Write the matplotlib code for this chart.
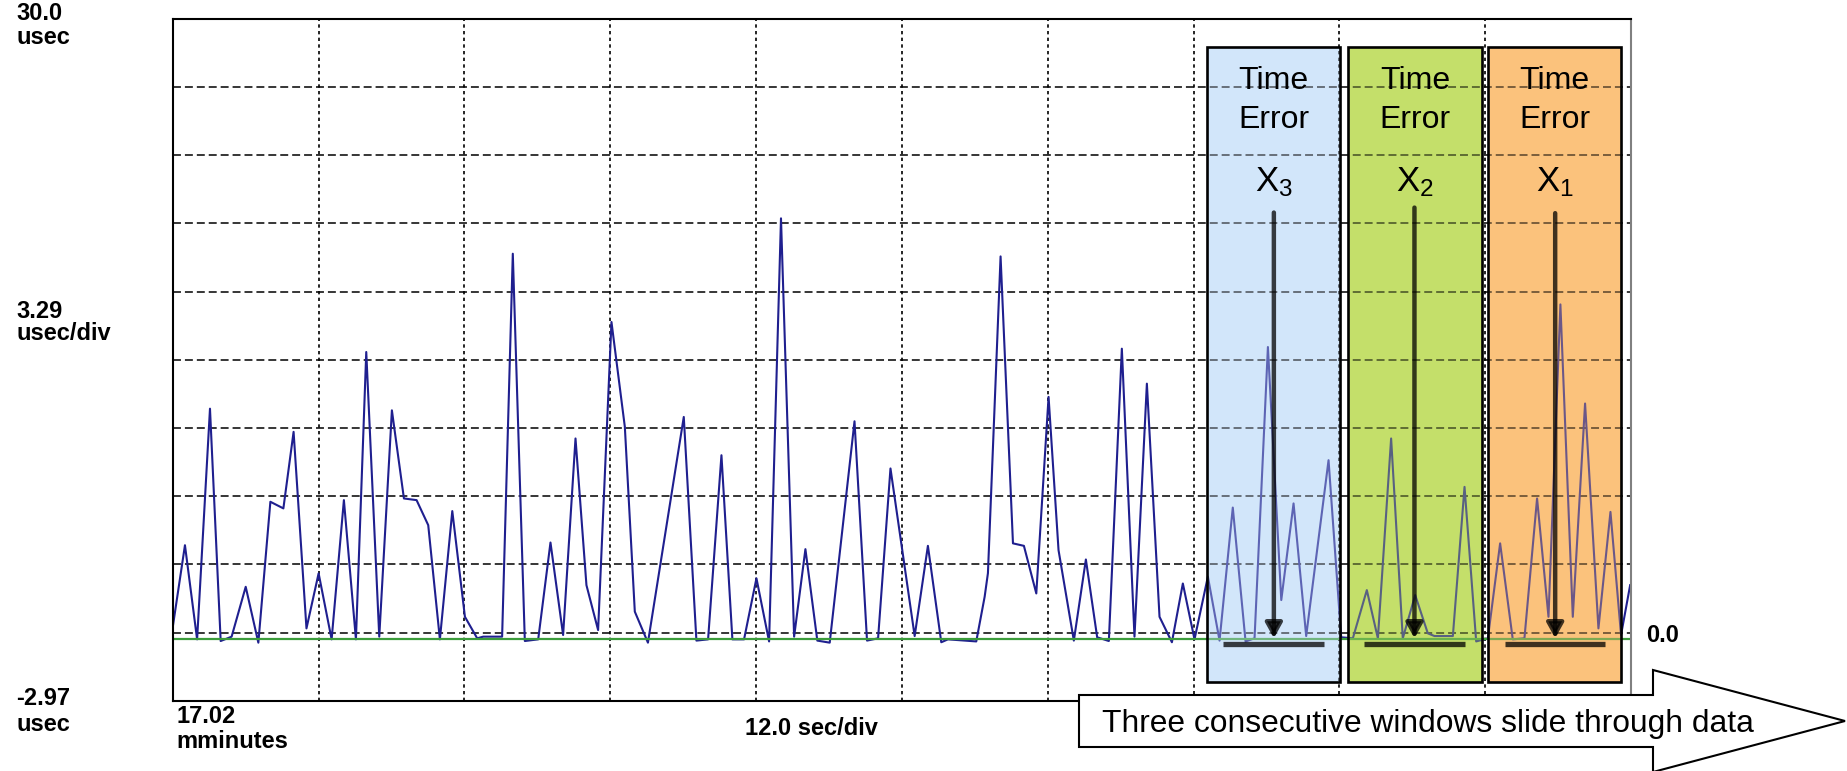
import matplotlib.pyplot as plt
from matplotlib.patches import Rectangle, Polygon
import numpy as np

plt.rcParams['font.family'] = ['Liberation Sans', 'DejaVu Sans']

t = [0.0, 1.0, 2.0, 3.06, 3.94, 4.84, 6.0, 7.04, 8.03, 9.1, 9.94, 11.0, 12.0, 13.07,
     14.08, 15.07, 15.92, 16.99, 18.03, 19.02, 20.06, 21.02, 21.98, 23.0, 24.04, 25.05,
     25.54, 27.1, 27.98, 28.97, 30.07, 31.08, 32.12, 33.14, 34.04, 35.0, 36.1, 37.2,
     38.02, 39.1, 42.05, 43.09, 44.05, 45.15, 46.05, 47.01, 48.03, 49.07, 50.05, 51.13,
     52.06, 53.04, 54.06, 56.1, 57.13, 58.04, 59.06, 61.05, 62.14, 63.24, 63.79, 66.12,
     66.81, 67.08, 68.12, 69.14, 70.04, 71.06, 72.07, 72.89, 74.15, 75.14, 76.07, 77.03,
     78.1, 79.14, 80.16, 81.2, 82.22, 83.12, 84.08, 85.18, 86.14, 87.23, 88.28, 89.02,
     90.12, 91.22, 92.23, 93.27, 95.11, 96.15, 97.11, 98.26, 99.17, 100.26, 101.22,
     102.24, 103.28, 103.83, 105.34, 106.3, 107.26, 108.22, 109.23, 110.27, 111.23,
     112.27, 113.21, 114.19, 115.21, 116.22, 117.32, 118.31, 119.18, 119.93]
te = [0.61, 4.55, 0.0, 11.15, -0.08, 0.13, 2.54, -0.16, 6.65, 6.33, 10.03, 0.53, 3.19, 0.0,
      6.73, 0.0, 13.89, 0.13, 11.07, 6.81, 6.73, 5.52, 0.0, 6.2, 1.09, 0.05,
      0.13, 0.13, 18.64, -0.08, 0.0, 4.68, 0.21, 9.71, 2.62, 0.45, 15.34, 10.27,
      1.34, -0.16, 10.75, -0.06, 0.0, 8.9, 0.0, 0.0, 2.95, -0.1, 20.35, 0.13,
      4.36, -0.06, -0.16, 10.54, -0.06, 0.05, 8.26, 0.16, 4.52, -0.14, 0.0, -0.1,
      2.06, 3.2, 18.51, 4.64, 4.52, 2.22, 11.72, 4.31, -0.06, 3.86, 0.1, -0.08,
      14.05, 0.13, 12.36, 1.09, -0.14, 2.7, 0.0, 3.03, -0.06, 6.37, -0.1, 0.05,
      14.13, 1.9, 6.57, 0.16, 8.66, 0.1, 0.05, 2.38, 0.05, 9.71, 0.05,
      2.14, 0.29, 0.16, 0.16, 7.37, -0.1, 0.05, 4.64, 0.0, 0.05,
      6.81, 1.09, 16.19, 1.09, 11.4, 0.53, 6.16, 0.21, 2.62]

y_min, y_max = -2.97, 30.0
x_min, x_max = 0.0, 120.0
n_div = 10

# the three sliding windows (sec) and their marks
win_left = [85.1, 96.7, 108.22]
win_right = [96.07, 107.72, 119.18]
win_bottom, win_top = -2.06, 28.61
win_colors = ['#d2e6fa', '#c4df6a', '#fbc27c']
win_index = ['3', '2', '1']
arrow_x = [90.61, 102.18, 113.76]
arrow_top = [20.63, 20.87, 20.6]
arrow_tip = 0.05
bar_left = [86.41, 98.0, 109.6]
bar_right = [94.7, 106.3, 117.9]
bar_y = -0.23

W, H = 1847, 771


def fx(px):
    return px / W


def fy(py):
    return 1 - py / H


fig = plt.figure(figsize=(W / 100, H / 100), dpi=100)
ax = fig.add_axes([fx(172.8), fy(700.8), (1631 - 172.8) / W, (700.8 - 18.7) / H])
ax.set_xlim(x_min, x_max)
ax.set_ylim(y_min, y_max)

ax.set_xticks(np.linspace(x_min, x_max, n_div + 1)[1:-1])
ax.set_yticks(np.linspace(y_min, y_max, n_div + 1)[1:-1])
ax.tick_params(length=0, labelbottom=False, labelleft=False)
ax.grid(axis='y', color='black', lw=1.1, ls=(0, (5.2, 2.6)))
ax.grid(axis='x', color='black', lw=1.2, ls=(0, (2, 2)))
for s in ax.spines.values():
    s.set_linewidth(1.5)
ax.spines['right'].set_color('#808080')

ax.plot(t, te, color='#1f1f8f', lw=1.5, zorder=2)
ax.axhline(0, color='#3c9c3c', lw=1.6, zorder=2.1)

for i in range(3):
    w = win_right[i] - win_left[i]
    h = win_top - win_bottom
    # solid colour under the trace, thin wash of the same colour over it
    ax.add_patch(Rectangle((win_left[i], win_bottom), w, h, facecolor=win_colors[i],
                           edgecolor='none', zorder=1.2))
    ax.add_patch(Rectangle((win_left[i], win_bottom), w, h, facecolor=win_colors[i],
                           edgecolor='none', alpha=0.35, zorder=3))
    ax.add_patch(Rectangle((win_left[i], win_bottom), w, h, fill=False,
                           edgecolor='black', lw=1.9, zorder=4))
    cx = win_left[i] + w / 2
    ax.text(cx, 26.59, 'Time', ha='center', va='baseline', fontsize=23, zorder=6)
    ax.text(cx, 24.74, 'Error', ha='center', va='baseline', fontsize=23, zorder=6)
    ax.text(cx, 21.65, r'$\mathregular{X_%s}$' % win_index[i], ha='center',
            va='baseline', fontsize=25, zorder=6)
    ax.annotate('', xy=(arrow_x[i], arrow_tip), xytext=(arrow_x[i], arrow_top[i]),
                arrowprops=dict(arrowstyle='-|>,head_length=0.9,head_width=0.5',
                                color='black', alpha=0.75, lw=3.2, shrinkA=0, shrinkB=0,
                                mutation_scale=10),
                zorder=5)
    ax.plot([bar_left[i], bar_right[i]], [bar_y, bar_y], color='black', alpha=0.75,
            lw=3.8, solid_capstyle='butt', zorder=5)

# screen labels around the trace
lab = dict(fontsize=17, fontweight='bold', ha='left', va='baseline')
for txt, px, py in [('30.0', 16, 20.5), ('usec', 16, 43.5),
                    ('3.29', 16, 317.7), ('usec/div', 16, 340.5),
                    ('-2.97', 16, 705.4), ('usec', 16, 730.6),
                    ('17.02', 176.7, 723), ('mminutes', 176.7, 747.8),
                    ('12.0 sec/div', 745, 735), ('0.0', 1645.7, 642)]:
    fig.text(fx(px), fy(py), txt, **lab)

# big block arrow along the bottom
arrow_px = [(1079, 695), (1653, 695), (1653, 670), (1845, 721), (1653, 772),
            (1653, 747), (1079, 747)]
fig.add_artist(Polygon([(fx(a), fy(b)) for a, b in arrow_px], closed=True,
                       facecolor='white', edgecolor='black', lw=1.5,
                       transform=fig.transFigure, clip_on=False))
fig.text(fx(1101.7), fy(731.7), 'Three consecutive windows slide through data',
         fontsize=22.9, ha='left', va='baseline')

fig.savefig('out.png', dpi=100)
